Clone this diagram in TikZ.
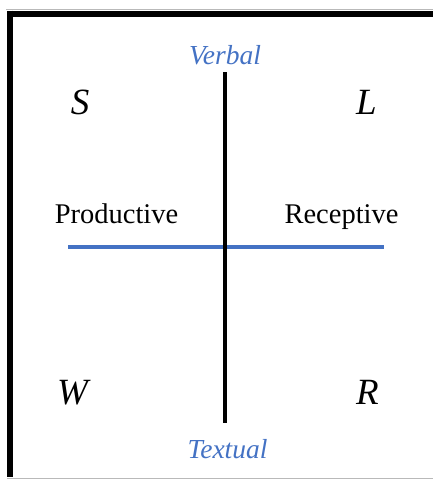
\documentclass[tikz,border=0pt]{standalone}
\usepackage{fontspec}
\setmainfont{Liberation Serif}
\definecolor{axisblue}{HTML}{4472C4}
\begin{document}
\begin{tikzpicture}[x=1pt,y=-1pt,
  lbl/.style={anchor=base,inner sep=0pt,font=\fontsize{28.5}{30}\selectfont},
  axislbl/.style={anchor=base,inner sep=0pt,text=axisblue,font=\fontsize{27.5}{30}\selectfont\itshape},
  skill/.style={anchor=base,inner sep=0pt,font=\fontsize{37}{40}\selectfont\itshape},
  frame/.style={line width=6pt,black},
  edge/.style={line width=1pt,gray!55}]
\useasboundingbox (0,0) rectangle (433,479);
% frame
\coordinate (tl) at (7,13.5);
\coordinate (tr) at (433,13.5);
\coordinate (lt) at (10,10.5);
\coordinate (lb) at (10,477);
\draw[edge] (6,9) -- (433,9);
\draw[edge] (7,478) -- (433,478);
\draw[frame] (tl) -- (tr);
\draw[frame] (lt) -- (lb);
% axes
\coordinate (vtop) at (224.5,72);
\coordinate (vbot) at (224.5,423);
\coordinate (hleft) at (68,247);
\coordinate (hright) at (384,247);
\draw[line width=4pt,axisblue] (hleft) -- (hright);
\draw[line width=4pt,black] (vtop) -- (vbot);
% labels
\node[axislbl] (verbal) at (225,64) {Verbal};
\node[axislbl] (textual) at (227.5,458) {Textual};
\node[lbl] (prod) at (116.5,223) {Productive};
\node[lbl] (rec) at (341.5,223) {Receptive};
\node[skill] (S) at (80,114) {S};
\node[skill] (L) at (366.5,114) {L};
\node[skill] (W) at (72.5,404) {W};
\node[skill] (R) at (367.5,404) {R};
\end{tikzpicture}
\end{document}
